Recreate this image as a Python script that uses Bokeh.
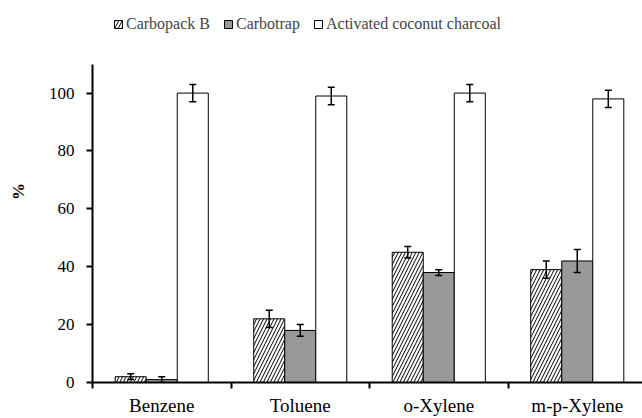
from bokeh.plotting import figure
from bokeh.models import ColumnDataSource, Range1d, FixedTicker, Whisker, TeeHead, Legend, LegendItem
from bokeh.transform import dodge
from bokeh.embed import file_html
from bokeh.resources import INLINE

categories = ["Benzene", "Toluene", "o-Xylene", "m-p-Xylene"]
carbopack = [2, 22, 45, 39]
carbopack_err = [1, 3, 2, 3]
carbotrap = [1, 18, 38, 42]
carbotrap_err = [1, 2, 1, 4]
coconut = [100, 99, 100, 98]
coconut_err = [3, 3, 3, 3]
y_ticks = [0, 20, 40, 60, 80, 100]
y_axis_max = 110

centers = [i + 0.5 for i in range(len(categories))]
bounds = list(range(len(categories) + 1))

src = ColumnDataSource(dict(
    x=centers,
    cb=carbopack, cb_lo=[v - e for v, e in zip(carbopack, carbopack_err)], cb_hi=[v + e for v, e in zip(carbopack, carbopack_err)],
    ct=carbotrap, ct_lo=[v - e for v, e in zip(carbotrap, carbotrap_err)], ct_hi=[v + e for v, e in zip(carbotrap, carbotrap_err)],
    ac=coconut, ac_lo=[v - e for v, e in zip(coconut, coconut_err)], ac_hi=[v + e for v, e in zip(coconut, coconut_err)],
))

FONT = "Liberation Serif"
BW = 0.224

# frame runs to the top of the figure so the legend above the axis is not clipped
p = figure(width=642, height=418, output_backend="svg", toolbar_location=None,
           x_range=Range1d(0, 3.971), y_range=Range1d(0, 132),
           min_border_left=92, min_border_right=0, min_border_top=0, min_border_bottom=20)

r1 = p.vbar(x=dodge("x", -BW, range=p.x_range), top="cb", width=BW, source=src,
            fill_color="white", line_color="black", line_width=1,
            hatch_pattern="/", hatch_color="black", hatch_scale=7, hatch_weight=1)
r2 = p.vbar(x=dodge("x", 0, range=p.x_range), top="ct", width=BW, source=src,
            fill_color="#999999", line_color="black", line_width=1)
r3 = p.vbar(x=dodge("x", BW, range=p.x_range), top="ac", width=BW, source=src,
            fill_color="white", line_color="black", line_width=1)

for off, lo, hi in [(-BW, "cb_lo", "cb_hi"), (0, "ct_lo", "ct_hi"), (BW, "ac_lo", "ac_hi")]:
    w = Whisker(source=src, base=dodge("x", off, range=p.x_range), lower=lo, upper=hi,
                line_width=1.5, line_color="black", level="annotation",
                upper_head=TeeHead(size=7, line_width=1.5, line_color="black"),
                lower_head=TeeHead(size=7, line_width=1.5, line_color="black"))
    p.add_layout(w)

legend = Legend(items=[LegendItem(label="Carbopack B", renderers=[r1]),
                       LegendItem(label="Carbotrap", renderers=[r2]),
                       LegendItem(label="Activated coconut charcoal", renderers=[r3])],
                orientation="horizontal", location=(21, 349),
                border_line_alpha=0, background_fill_alpha=0,
                label_text_font=FONT, label_text_font_size="16px",
                glyph_width=10, glyph_height=10, label_standoff=3, spacing=13,
                padding=0, margin=0)
p.add_layout(legend)

p.xaxis.ticker = FixedTicker(ticks=centers, minor_ticks=bounds)
p.xaxis.major_label_overrides = {c: n for c, n in zip(centers, categories)}
p.xaxis.major_tick_out = 0
p.xaxis.major_tick_in = 0
p.xaxis.minor_tick_out = 6
p.xaxis.minor_tick_in = 0
p.xaxis.minor_tick_line_width = 2
p.xaxis.major_label_text_font_size = "19px"
p.xaxis.major_label_standoff = 6

p.yaxis.ticker = FixedTicker(ticks=y_ticks)
p.yaxis.bounds = (0, y_axis_max)
p.yaxis.major_tick_out = 6
p.yaxis.major_tick_in = 0
p.yaxis.minor_tick_out = 0
p.yaxis.major_tick_line_width = 2
p.yaxis.major_label_text_font_size = "17px"
p.yaxis.major_label_standoff = 12
p.yaxis.axis_label = "%"
p.yaxis.axis_label_text_font_style = "bold"
p.yaxis.axis_label_text_font_size = "17px"
p.yaxis.axis_label_standoff = 18

for ax in (p.xaxis, p.yaxis):
    ax.axis_line_width = 2
    ax.axis_line_color = "black"
    ax.major_label_text_font = FONT
    ax.major_label_text_color = "black"
    ax.axis_label_text_font = FONT
    ax.axis_label_text_color = "black"
    ax.major_tick_line_color = "black"
    ax.minor_tick_line_color = "black"

p.grid.visible = False
p.outline_line_color = None

open("out.html", "w").write(file_html(p, INLINE))
